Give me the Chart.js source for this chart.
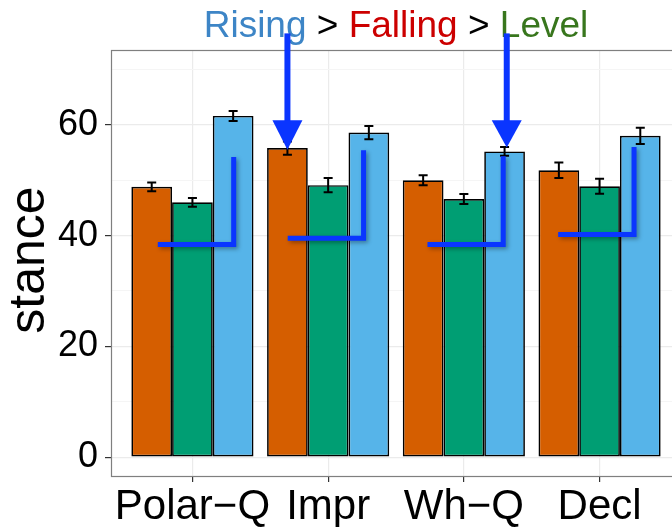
<!DOCTYPE html>
<html>
<head>
<meta charset="utf-8">
<script src="https://cdn.jsdelivr.net/npm/chart.js@4"></script>
<style>
  html, body { margin: 0; padding: 0; background: #fff; overflow: hidden; }
  #wrap { width: 690px; height: 527px; }
</style>
</head>
<body>
<div id="wrap"><canvas id="chart" width="690" height="527"></canvas></div>
<script>
// categories and series (bar heights)
const categories = ["Polar\u2212Q", "Impr", "Wh\u2212Q", "Decl"];
const falling = [48.8, 55.8, 50.0, 51.8];
const level = [46.0, 49.1, 46.6, 48.9];
const rising = [61.6, 58.6, 55.2, 58.0];
// error bar half-lengths
const fallingErr = [0.8, 1.2, 0.9, 1.4];
const levelErr = [0.8, 1.3, 0.9, 1.35];
const risingErr = [0.9, 1.2, 0.8, 1.45];
// y ticks (major labelled, minor only gridlines)
const yTicks = [0, 10, 20, 30, 40, 50, 60, 70];
const yLabelled = [0, 20, 40, 60];

// blue "L" annotations, in data units (offset from category centre, value)
const lFrom = [-0.255, -0.298, -0.268, -0.305];
const lTo = [0.304, 0.261, 0.29, 0.254];
const lLevel = [38.4, 39.5, 38.4, 40.2];
const lTop = [54.2, 55.4, 54.3, 56.0];
// arrows
const arrowCat = [1, 2];
const arrowOffset = [-0.3, 0.316];
const arrowTip = [55.5, 55.9];
const arrowHead = [60.8, 60.8];
const arrowTail = 76.5;

const titleParts = [["Rising", "#3d85c6"], [" > ", "#000000"], ["Falling", "#cc0000"], [" > ", "#000000"], ["Level", "#38761d"]];

const FONT = '"Liberation Sans", Arial, Helvetica, sans-serif';
Chart.defaults.font.family = FONT;

function toPoints(vals) {
  return vals.map((v, i) => ({ x: i, y: v }));
}

const overlay = {
  id: "overlay",
  beforeDatasetsDraw(chart) {
    const { ctx, chartArea: a } = chart;
    ctx.save();
    ctx.strokeStyle = "#7f7f7f";
    ctx.lineWidth = 1.2;
    ctx.strokeRect(Math.round(a.left) + 0.5, Math.round(a.top) + 0.5, a.right - a.left, Math.round(a.bottom - a.top));
    ctx.restore();
  },
  afterDatasetsDraw(chart) {
    const { ctx, chartArea: a, scales: { x, y } } = chart;
    const errs = [fallingErr, levelErr, risingErr];

    // error bars
    ctx.save();
    ctx.strokeStyle = "#000";
    ctx.lineWidth = 2;
    errs.forEach((e, d) => {
      const vals = chart.data.datasets[d].data;
      chart.getDatasetMeta(d).data.forEach((bar, i) => {
        const cx = bar.x;
        const t = y.getPixelForValue(vals[i].y + e[i]);
        const b = y.getPixelForValue(vals[i].y - e[i]);
        ctx.beginPath();
        ctx.moveTo(cx, t); ctx.lineTo(cx, b);
        ctx.moveTo(cx - 4.5, t); ctx.lineTo(cx + 4.5, t);
        ctx.moveTo(cx - 4.5, b); ctx.lineTo(cx + 4.5, b);
        ctx.stroke();
      });
    });
    ctx.restore();

    // blue L shapes with a soft shadow
    ctx.save();
    ctx.strokeStyle = "#0a35ff";
    ctx.lineWidth = 5;
    ctx.lineJoin = "miter";
    ctx.shadowColor = "rgba(0,0,0,0.35)";
    ctx.shadowBlur = 4;
    ctx.shadowOffsetX = 2;
    ctx.shadowOffsetY = 2;
    categories.forEach((c, i) => {
      ctx.beginPath();
      ctx.moveTo(x.getPixelForValue(i + lFrom[i]), y.getPixelForValue(lLevel[i]));
      ctx.lineTo(x.getPixelForValue(i + lTo[i]), y.getPixelForValue(lLevel[i]));
      ctx.lineTo(x.getPixelForValue(i + lTo[i]), y.getPixelForValue(lTop[i]));
      ctx.stroke();
    });
    ctx.restore();

    // title in three colours
    ctx.save();
    ctx.font = "37px " + FONT;
    ctx.textBaseline = "alphabetic";
    const total = titleParts.reduce((s, p) => s + ctx.measureText(p[0]).width, 0);
    let tx = (a.left + a.right) / 2 - total / 2;
    titleParts.forEach(p => {
      ctx.fillStyle = p[1];
      ctx.fillText(p[0], tx, 37);
      tx += ctx.measureText(p[0]).width;
    });
    ctx.restore();

    // y axis title (left part cut off in the original)
    ctx.save();
    ctx.font = "50px " + FONT;
    ctx.fillStyle = "#000";
    ctx.textAlign = "center";
    ctx.translate(44, 260);
    ctx.rotate(-Math.PI / 2);
    ctx.fillText("stance", 0, 0);
    ctx.restore();

    // arrows
    ctx.save();
    ctx.strokeStyle = "#0a35ff";
    ctx.fillStyle = "#0a35ff";
    ctx.lineWidth = 6;
    arrowCat.forEach((c, k) => {
      const cx = x.getPixelForValue(c + arrowOffset[k]);
      const hy = y.getPixelForValue(arrowHead[k]);
      ctx.beginPath();
      ctx.moveTo(cx, y.getPixelForValue(arrowTail));
      ctx.lineTo(cx, hy + 1);
      ctx.stroke();
      ctx.beginPath();
      ctx.moveTo(cx - 15, hy);
      ctx.lineTo(cx + 15, hy);
      ctx.lineTo(cx, y.getPixelForValue(arrowTip[k]));
      ctx.closePath();
      ctx.fill();
    });
    ctx.restore();
  }
};

const barStyle = { borderColor: "#000", borderWidth: 1.7, borderSkipped: false };

new Chart(document.getElementById("chart"), {
  type: "bar",
  data: {
    datasets: [
      { label: "Falling", data: toPoints(falling), backgroundColor: "#D55E00", ...barStyle },
      { label: "Level", data: toPoints(level), backgroundColor: "#009E73", ...barStyle },
      { label: "Rising", data: toPoints(rising), backgroundColor: "#56B4E9", ...barStyle }
    ]
  },
  options: {
    responsive: false,
    animation: false,
    categoryPercentage: 0.9,
    barPercentage: 1.0,
    layout: { padding: { top: 50, right: 9, left: 0, bottom: 0 } },
    plugins: { legend: { display: false }, tooltip: { enabled: false }, title: { display: false } },
    scales: {
      x: {
        type: "linear",
        min: -0.6,
        max: 3.6,
        offset: false,
        afterBuildTicks(scale) { scale.ticks = categories.map((c, i) => ({ value: i })); },
        afterFit(scale) { scale.height = 51; },
        border: { display: false },
        grid: { offset: false, color: "#EBEBEB", lineWidth: 1.2, tickLength: 6, tickColor: "#333", tickWidth: 1.2 },
        ticks: {
          callback: v => categories[v],
          color: "#000",
          font: { size: 42 },
          padding: 0,
          maxRotation: 0,
          autoSkip: false
        }
      },
      y: {
        min: -3.4,
        max: 73.5,
        afterBuildTicks(scale) { scale.ticks = yTicks.map(v => ({ value: v })); },
        afterFit(scale) { scale.width = 111; },
        border: { display: false },
        grid: {
          color: c => yLabelled.includes(c.tick.value) ? "#EBEBEB" : "#F5F5F5",
          lineWidth: c => yLabelled.includes(c.tick.value) ? 1.2 : 1,
          tickLength: 6,
          tickColor: c => yLabelled.includes(c.tick.value) ? "#333" : "rgba(0,0,0,0)",
          tickWidth: 1.2
        },
        ticks: {
          callback: v => yLabelled.includes(v) ? String(v) : "",
          color: "#000",
          font: { size: 36 },
          padding: 7,
          autoSkip: false
        }
      }
    }
  },
  plugins: [overlay]
});
</script>
</body>
</html>
